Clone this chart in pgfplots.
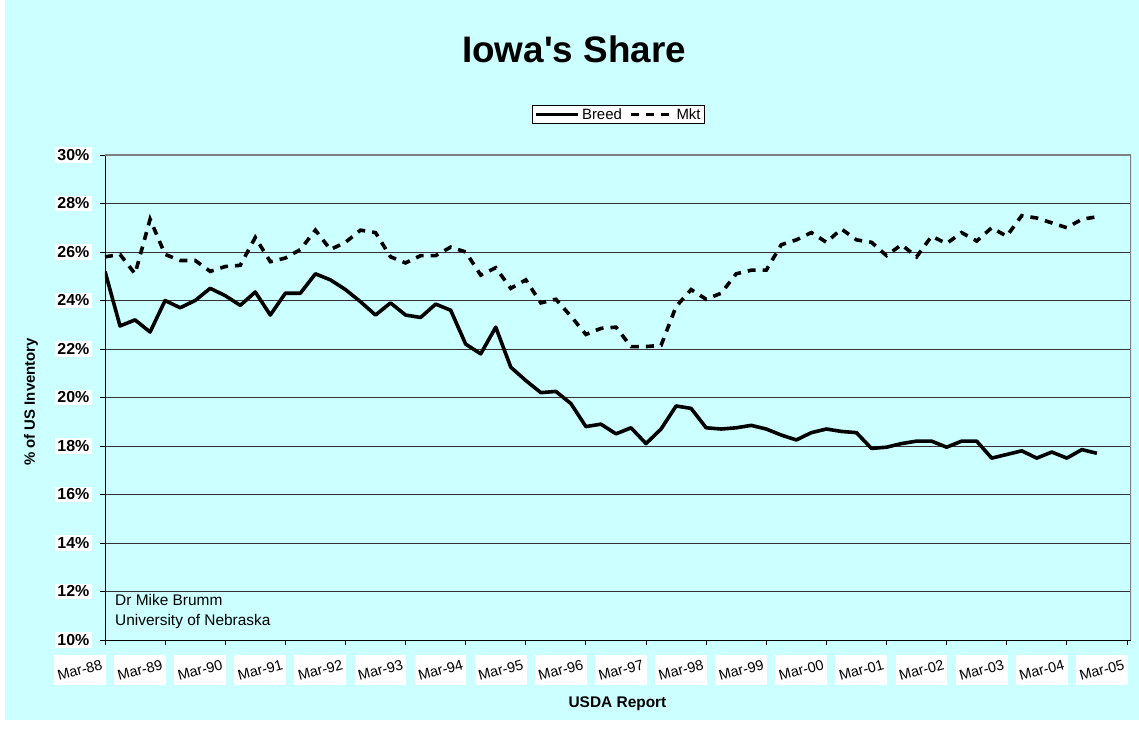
\documentclass[border=0pt]{standalone}
\usepackage{fontspec}
\setmainfont{Liberation Sans}
\usepackage{pgfplots}
\usepackage{pgfplotstable}
\pgfplotsset{compat=1.18}
\definecolor{bgc}{RGB}{204,255,255}
\newcommand{\rl}[1]{\rotatebox{15}{#1}}

\pgfplotstableread{
i breed mkt
0 25.2 25.8
1 22.95 25.9
2 23.2 25.1
3 22.7 27.35
4 24.0 25.9
5 23.7 25.65
6 24.0 25.65
7 24.5 25.2
8 24.2 25.4
9 23.8 25.45
10 24.35 26.6
11 23.4 25.6
12 24.3 25.75
13 24.3 26.1
14 25.1 26.9
15 24.85 26.1
16 24.45 26.4
17 23.95 26.9
18 23.4 26.8
19 23.9 25.8
20 23.4 25.55
21 23.3 25.85
22 23.85 25.85
23 23.6 26.2
24 22.2 26.0
25 21.8 25.05
26 22.9 25.35
27 21.25 24.5
28 20.7 24.85
29 20.2 23.9
30 20.25 24.05
31 19.75 23.35
32 18.8 22.6
33 18.9 22.85
34 18.5 22.9
35 18.75 22.1
36 18.1 22.1
37 18.7 22.15
38 19.65 23.75
39 19.55 24.45
40 18.75 24.05
41 18.7 24.3
42 18.75 25.1
43 18.85 25.25
44 18.7 25.25
45 18.45 26.3
46 18.25 26.5
47 18.55 26.8
48 18.7 26.4
49 18.6 26.95
50 18.55 26.5
51 17.9 26.4
52 17.95 25.85
53 18.1 26.3
54 18.2 25.8
55 18.2 26.65
56 17.95 26.35
57 18.2 26.8
58 18.2 26.45
59 17.5 27.0
60 17.65 26.65
61 17.8 27.5
62 17.5 27.4
63 17.75 27.2
64 17.5 27.0
65 17.85 27.35
66 17.7 27.45
}\datatable

\begin{document}
\begin{tikzpicture}[x=1bp,y=1bp]
\fill[white] (-105,-90) rectangle (1034,640);
\fill[bgc] (-100,-80) rectangle (1034,640);
\begin{axis}[
  at={(0,0)}, anchor=south west,
  scale only axis, width=1026bp, height=485bp,
  xmin=0, xmax=68.27, ymin=10, ymax=30,
  axis background/.style={fill=bgc},
  axis lines*=left,
  axis line style={black, line width=0.9bp},
  tick align=outside,
  major tick length=5bp,
  tick style={black, line width=0.9bp},
  xtick={0,4,...,68},
  xticklabels={{\rl{Mar-88}},{\rl{Mar-89}},{\rl{Mar-90}},{\rl{Mar-91}},{\rl{Mar-92}},{\rl{Mar-93}},{\rl{Mar-94}},{\rl{Mar-95}},{\rl{Mar-96}},{\rl{Mar-97}},{\rl{Mar-98}},{\rl{Mar-99}},{\rl{Mar-00}},{\rl{Mar-01}},{\rl{Mar-02}},{\rl{Mar-03}},{\rl{Mar-04}},{\rl{Mar-05}}},
  xticklabel style={anchor=north east, fill=white, inner xsep=2.5bp, inner ysep=4bp, font=\fontsize{14.5}{17}\selectfont, yshift=-10bp, xshift=1bp},
  ytick={10,12,...,30},
  yticklabels={10\%,12\%,14\%,16\%,18\%,20\%,22\%,24\%,26\%,28\%,30\%},
  yticklabel style={fill=white, inner xsep=2.5bp, inner ysep=2bp, font=\bfseries\fontsize{16}{19}\selectfont, xshift=-8bp},
  ymajorgrids,
  grid style={black!80, line width=0.9bp},
  xlabel={USDA Report},
  xlabel style={font=\bfseries\fontsize{15.5}{18}\selectfont, at={(axis description cs:0.4995,-0.132)}, anchor=center},
  ylabel={\% of US Inventory},
  ylabel style={font=\bfseries\fontsize{15}{18}\selectfont, at={(axis description cs:-0.0721,0.491)}, anchor=center, rotate=0},
  legend style={at={(0.5005,1.0835)}, anchor=center, legend columns=2, draw=black, line width=0.6bp, fill=white, font=\fontsize{15}{18}\selectfont, inner xsep=2bp, inner ysep=1bp, /tikz/every even column/.append style={column sep=5bp}},
  legend image code/.code={\draw[#1] (0bp,0bp) -- (42bp,0bp);},
]
\addplot[black, mark=none, line width=3.6bp, line join=round] table[x=i, y=breed]{\datatable};
\addlegendentry{Breed}
\addplot[black, mark=none, line width=3.6bp, dash pattern=on 8bp off 7bp] table[x=i, y=mkt]{\datatable};
\addlegendentry{Mkt}
\draw[black!50, line width=1.2bp] (rel axis cs:0,1) -- (rel axis cs:1,1) -- (rel axis cs:1,0);
\end{axis}
\node[anchor=base, font=\bfseries\fontsize{37}{44}\selectfont] at (469,577) {Iowa\textquotesingle s Share};
\node[anchor=base west, font=\fontsize{15.5}{18}\selectfont, inner sep=0pt] at (10,34) {Dr Mike Brumm};
\node[anchor=base west, font=\fontsize{15.5}{18}\selectfont, inner sep=0pt] at (10,14) {University of Nebraska};
\pgfresetboundingbox
\useasboundingbox (-105,-90) rectangle (1034,640);
\end{tikzpicture}
\end{document}
